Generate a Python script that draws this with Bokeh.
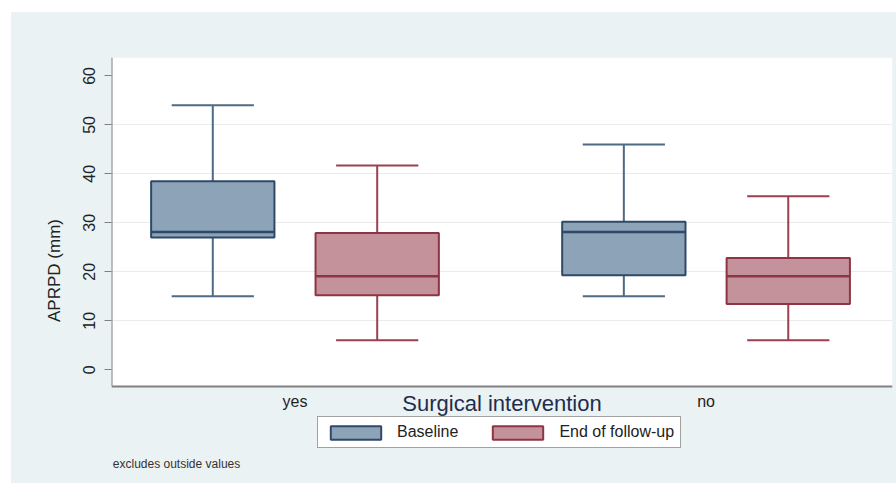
from bokeh.plotting import figure
from bokeh.models import Range1d, FixedTicker, Label, Legend, LegendItem, ColumnDataSource
from bokeh.embed import file_html
from bokeh.resources import INLINE

# ---- data ----
groups = ["yes", "no"]
series = ["Baseline", "End of follow-up"]
lower = {"Baseline": [15.0, 15.0], "End of follow-up": [6.0, 6.0]}
q1 = {"Baseline": [27.0, 19.3], "End of follow-up": [15.2, 13.4]}
median = {"Baseline": [28.1, 28.1], "End of follow-up": [19.1, 19.1]}
q3 = {"Baseline": [38.5, 30.2], "End of follow-up": [27.9, 22.8]}
upper = {"Baseline": [54.0, 46.0], "End of follow-up": [41.7, 35.4]}
y_ticks = [0, 10, 20, 30, 40, 50, 60]
y_title = "APRPD (mm)"
x_title = "Surgical intervention"
note = "excludes outside values"

fill_colors = {"Baseline": "#8da3b8", "End of follow-up": "#c4929a"}
line_colors = {"Baseline": "#2e4a66", "End of follow-up": "#8e3444"}
whisk_colors = {"Baseline": "#4f6a85", "End of follow-up": "#9a4050"}

FONT = "Liberation Sans"
BG = "#eaf2f3"
GROUP_GAP = 2.5
BOX_W = 0.75
CAP_W = 0.5

# plot-region extent (data units); frame extends further down to hold texts
X0, X1 = -0.616, 4.134
Y_PLOT_LO, Y_PLOT_HI = -3.35, 63.76
Y_FRAME_LO = -23.24

p = figure(width=885, height=471, output_backend="svg", toolbar_location=None,
           x_range=Range1d(X0, X1), y_range=Range1d(Y_FRAME_LO, Y_PLOT_HI),
           x_axis_location=None,
           min_border_left=100, min_border_right=4, min_border_top=45, min_border_bottom=0)
p.styles = {"margin-left": "11px", "margin-top": "12px", "background-color": BG}
p.background_fill_color = BG
p.border_fill_color = BG
p.outline_line_color = None
p.xgrid.visible = False
p.ygrid.visible = False

# white plot region, grid lines, axis lines
p.quad(left=[X0], right=[X1], bottom=[Y_PLOT_LO], top=[Y_PLOT_HI],
       fill_color="white", line_color=None)
p.hspan(y=y_ticks[1:-1], line_color="#e8ecee", line_width=1)
p.hspan(y=[Y_PLOT_LO], line_color="#808080", line_width=2)
p.segment(x0=[X0], y0=[Y_PLOT_LO], x1=[X0], y1=[Y_PLOT_HI], line_color="#808080", line_width=2)

renderers = {}
for si, s in enumerate(series):
    xs = [gi * GROUP_GAP + si for gi in range(len(groups))]
    src = ColumnDataSource(dict(
        x=xs, lo=lower[s], q1=q1[s], med=median[s], q3=q3[s], hi=upper[s],
        x0=[x - CAP_W / 2 for x in xs], x1=[x + CAP_W / 2 for x in xs],
        m0=[x - BOX_W / 2 for x in xs], m1=[x + BOX_W / 2 for x in xs],
    ))
    wc = whisk_colors[s]
    p.segment(x0="x", y0="q3", x1="x", y1="hi", source=src, line_color=wc, line_width=2)
    p.segment(x0="x", y0="q1", x1="x", y1="lo", source=src, line_color=wc, line_width=2)
    p.segment(x0="x0", y0="hi", x1="x1", y1="hi", source=src, line_color=wc, line_width=2)
    p.segment(x0="x0", y0="lo", x1="x1", y1="lo", source=src, line_color=wc, line_width=2)
    r = p.vbar(x="x", width=BOX_W, bottom="q1", top="q3", source=src,
               fill_color=fill_colors[s], line_color=line_colors[s], line_width=2)
    p.segment(x0="m0", y0="med", x1="m1", y1="med", source=src,
              line_color=line_colors[s], line_width=2.5)
    renderers[s] = r

ya = p.yaxis[0]
ya.ticker = FixedTicker(ticks=y_ticks)
ya.bounds = (Y_PLOT_LO, Y_PLOT_HI)
ya.axis_label = y_title
ya.axis_label_text_font = FONT
ya.axis_label_text_font_size = "17px"
ya.axis_label_text_font_style = "normal"
ya.axis_label_text_color = "#222222"
ya.axis_label_standoff = 17
ya.major_label_orientation = "vertical"
ya.major_label_text_font = FONT
ya.major_label_text_font_size = "16px"
ya.major_label_text_color = "#222222"
ya.major_label_standoff = 9
ya.major_tick_out = 7
ya.major_tick_in = 0
ya.minor_tick_line_color = None
ya.axis_line_color = None
ya.major_tick_line_color = "#808080"

# group labels, axis title, note
for gi, g in enumerate(groups):
    cx = gi * GROUP_GAP + (len(series) - 1) / 2
    p.add_layout(Label(x=cx, y=-6.5, text=g, text_font=FONT, text_font_size="16px",
                       text_color="#222222", text_align="center", text_baseline="middle"))
p.add_layout(Label(x=(X0 + X1) / 2, y=-6.9, text=x_title,
                   text_font=FONT, text_font_size="22px", text_color="#1f2d4d",
                   text_align="center", text_baseline="middle"))
p.add_layout(Label(x=-0.608, y=-19.35, text=note, text_font=FONT, text_font_size="12px",
                   text_color="#333333", text_align="left", text_baseline="middle"))

legend = Legend(items=[LegendItem(label=s, renderers=[renderers[s]]) for s in series],
                location=(206, 34.7), orientation="horizontal",
                label_text_font=FONT, label_text_font_size="16px", label_text_color="#222222",
                glyph_width=63, glyph_height=17, label_standoff=10, spacing=28,
                padding=6, margin=0, label_height=17,
                border_line_color="#444444", border_line_width=1,
                background_fill_color="white", background_fill_alpha=1)
p.add_layout(legend, "center")

open("out.html", "w").write(file_html(p, INLINE))
